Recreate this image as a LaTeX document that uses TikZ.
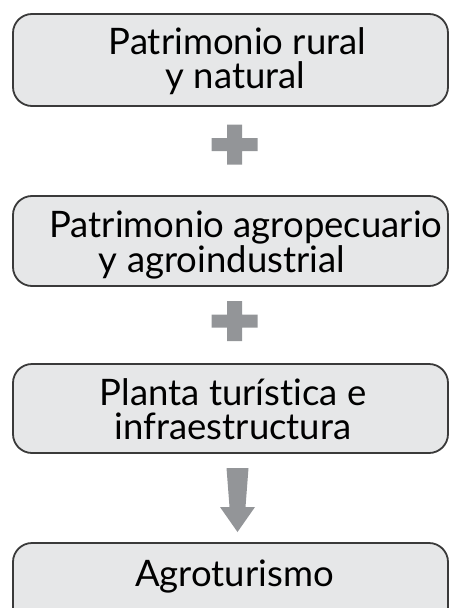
\documentclass[tikz,border=0pt]{standalone}
\usepackage{fontspec}
\setmainfont{Lato}[Ligatures=NoCommon]
\definecolor{boxfill}{HTML}{E6E7E8}
\definecolor{boxline}{HTML}{3A3A3A}
\definecolor{signgray}{HTML}{939598}
\begin{document}
\begin{tikzpicture}[x=1pt,y=-1pt,
  stagebox/.style={draw=boxline, line width=1.8pt, fill=boxfill, rounded corners=19pt,
    minimum width=435pt, inner sep=0pt, outer sep=0pt, anchor=north west},
  txt/.style={anchor=base, font=\fontsize{36.5}{40}\selectfont, text=black, inner sep=0pt},
  signshape/.style={fill=signgray, draw=none}
]
\useasboundingbox (0,0) rectangle (449,608);
\clip (0,0) rectangle (449,608);
% boxes
\node[stagebox, minimum height=92pt] (b1) at (13,14) {};
\node[stagebox, minimum height=90pt] (b2) at (13,196) {};
\node[stagebox, minimum height=89pt] (b3) at (13,364) {};
\node[stagebox, minimum height=90pt] (b4) at (13,543) {};
% texts
\node[txt] (t1a) at (237.5,54) {Patrimonio rural};
\node[txt] (t1b) at (235.5,88) {y natural};
\node[txt] (t2a) at (246,237) {Patrimonio agropecuario};
\node[txt] (t2b) at (222,272) {y agroindustrial};
\node[txt] (t3a) at (233,405) {Planta turística e};
\node[txt] (t3b) at (233,439) {infraestructura};
\node[txt] (t4) at (234.5,586) {Agroturismo};
% plus signs
\coordinate (p1) at (234.5,144.5);
\coordinate (p2) at (234.5,321);
\foreach \p in {p1,p2}{
  \fill[signshape] ([shift={(-7.5,-20)}]\p) -- ([shift={(7.5,-20)}]\p) -- ([shift={(7.5,-6.5)}]\p)
    -- ([shift={(23,-6.5)}]\p) -- ([shift={(23,6.5)}]\p) -- ([shift={(7.5,6.5)}]\p)
    -- ([shift={(7.5,20)}]\p) -- ([shift={(-7.5,20)}]\p) -- ([shift={(-7.5,6.5)}]\p)
    -- ([shift={(-23,6.5)}]\p) -- ([shift={(-23,-6.5)}]\p) -- ([shift={(-7.5,-6.5)}]\p) -- cycle;
}
% arrow
\coordinate (a0) at (237.5,468);
\fill[signshape] ([shift={(-11,0)}]a0) -- ([shift={(11,0)}]a0) -- ([shift={(8,39)}]a0)
  -- ([shift={(17.5,39)}]a0) -- ([shift={(0,64)}]a0) -- ([shift={(-17.5,39)}]a0)
  -- ([shift={(-8,39)}]a0) -- cycle;
\end{tikzpicture}
\end{document}
